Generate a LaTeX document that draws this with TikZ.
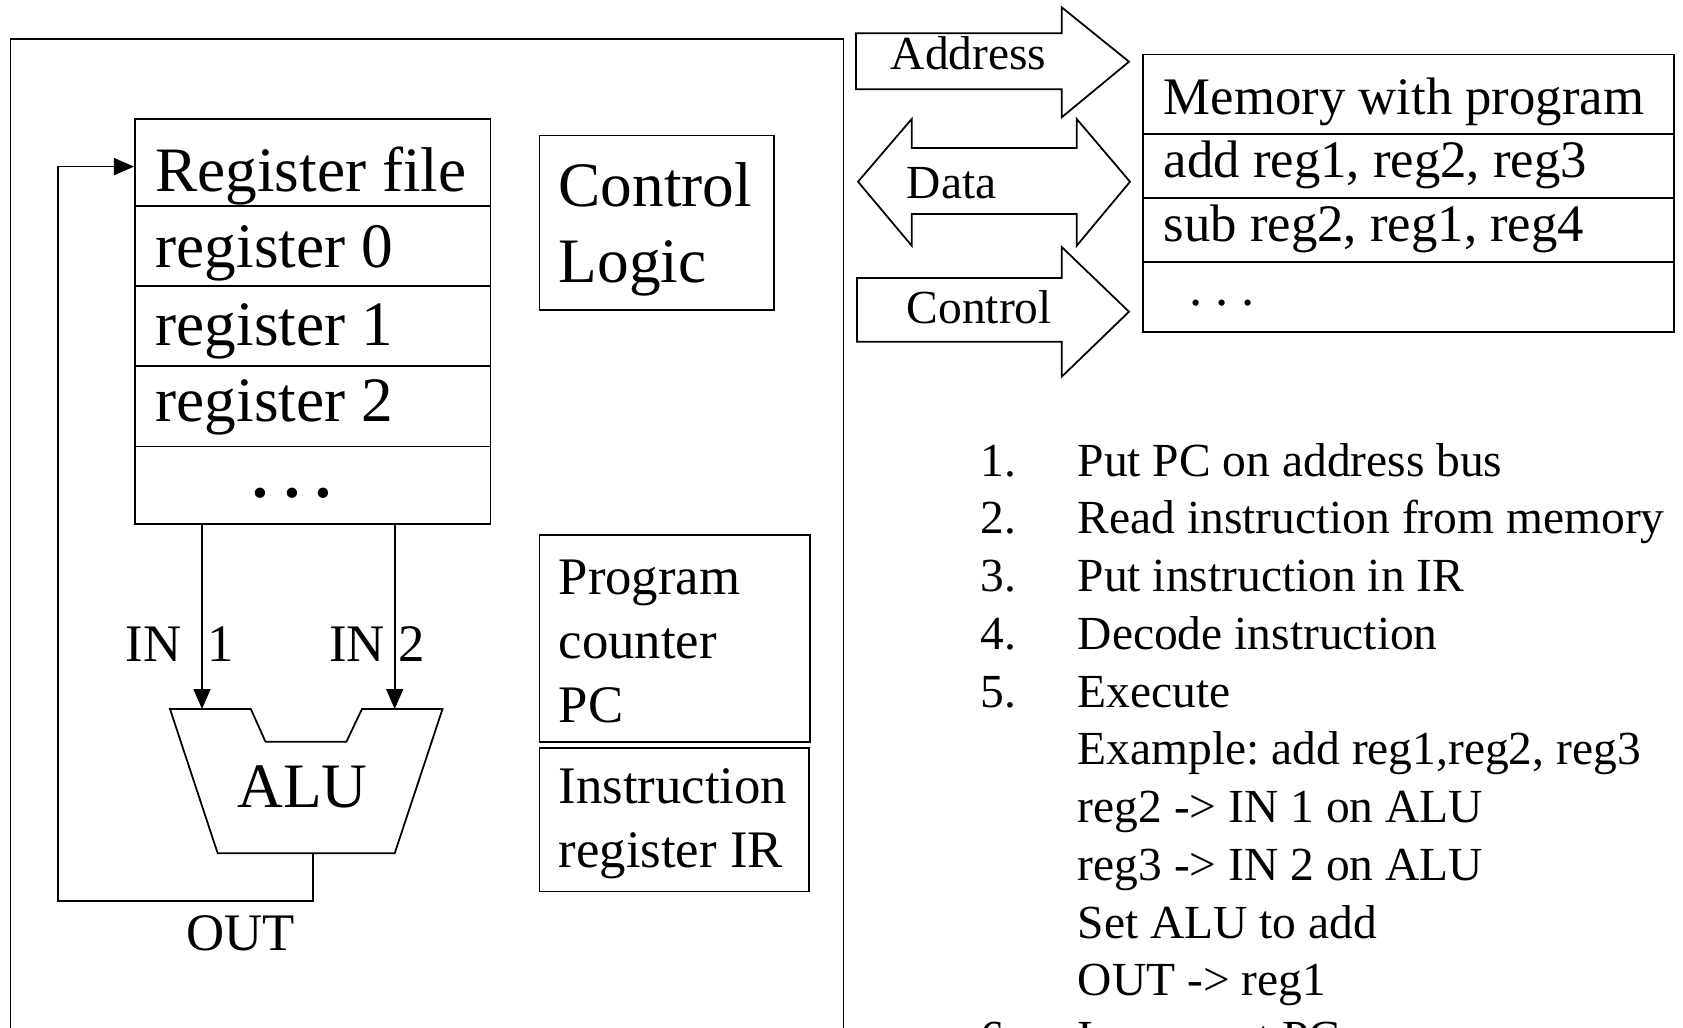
\documentclass[tikz,border=0pt]{standalone}
\usepackage{fontspec}
\setmainfont{Liberation Serif}
\frenchspacing
\usetikzlibrary{arrows.meta}

\begin{document}
\begin{tikzpicture}[x=0.01cm, y=-0.01cm,
    box/.style={draw, line width=0.5pt, inner sep=0pt, anchor=north west},
    lbl/.style={inner sep=0pt, anchor=base west},
    big/.style={lbl, font=\fontsize{18}{21.6}\selectfont},
    mid/.style={lbl, font=\fontsize{15}{18.1}\selectfont},
    sml/.style={lbl, font=\fontsize{13.5}{16.42}\selectfont},
    wire/.style={line width=0.5pt},
    bus/.style={draw, line width=0.5pt},
    arr/.style={line width=0.45pt, -{Triangle[length=2mm, width=1.7mm]}}
  ]
    \useasboundingbox (0,0) rectangle (1683,1027);
    \clip (0,0) rectangle (1683,1027);

    % processor frame, open below the page edge
    \node[box, minimum width=8.325cm, minimum height=10cm] (cpu) at (9.5,38) {};

    % register file
    \node[box, minimum width=3.555cm, minimum height=4.05cm] (regfile) at (134,118) {};
    \draw[wire] (134,205.9) -- (489.5,205.9);
    \draw[wire] (134,285.9) -- (489.5,285.9);
    \draw[wire] (134,366.2) -- (489.5,366.2);
    \draw[wire] (134,446.6) -- (489.5,446.6);
    \node[big] (rtitle) at (154.5,191.5) {Register file};
    \node[big] (reg0) at (155,267) {register 0};
    \node[big] (reg1) at (155,345) {register 1};
    \node[big] (reg2) at (155,421) {register 2};
    \node[big] (rdots) at (251.7,497) {\textbf{. . .}};

    % control logic, PC and IR
    \node[box, minimum width=2.343cm, minimum height=1.748cm] (ctrl) at (538.5,134.5) {};
    \node[big] (ctrltxt) at (558,206.9) {\begin{tabular}[t]{@{}l@{}}Control\\Logic\end{tabular}};
    \node[box, minimum width=2.708cm, minimum height=2.07cm] (pc) at (538.5,534) {};
    \node[mid] (pctxt) at (558,594.8) {\begin{tabular}[t]{@{}l@{}}Program\\counter\\PC\end{tabular}};
    \node[box, minimum width=2.697cm, minimum height=1.434cm] (ir) at (538.5,747.2) {};
    \node[mid] (irtxt) at (558,803.6) {\begin{tabular}[t]{@{}l@{}}Instruction\\register IR\end{tabular}};

    % ALU
    \draw[wire] (170,709) -- (250.8,709) -- (265.5,741.7) -- (346.4,741.7) -- (362,709)
      -- (442.5,709) -- (394.7,853.3) -- (217.7,853.3) -- cycle;
    \node[big, anchor=base] (alu) at (302.5,807) {ALU};
    \coordinate (alu-in1) at (202,709);
    \coordinate (alu-in2) at (394.7,709);
    \coordinate (alu-out) at (313,853.3);
    \draw[arr] (regfile.south -| alu-in1) -- (alu-in1);
    \draw[arr] (regfile.south -| alu-in2) -- (alu-in2);
    \draw[arr] (alu-out) |- (58,901) |- (regfile.west |- 0,166.6);
    \node[mid] (in1) at (125,661.6) {IN\ \ 1};
    \node[mid] (in2) at (328.6,661.6) {IN 2};
    \node[mid] (out) at (185.5,950) {OUT};

    % buses
    \draw[bus] (856,33.3) -- (1061.7,33.3) -- (1061.7,7.3) -- (1129,61.7)
      -- (1061.7,117.3) -- (1061.7,89.3) -- (856,89.3) -- cycle;
    \draw[bus] (858,181.7) -- (911.7,119) -- (911.7,148) -- (1076.7,148) -- (1076.7,119)
      -- (1130,181.7) -- (1076.7,245.7) -- (1076.7,214) -- (911.7,214) -- (911.7,245.7) -- cycle;
    \draw[bus] (857,278) -- (1061.7,278) -- (1061.7,247) -- (1129,311.7)
      -- (1061.7,376.7) -- (1061.7,341.7) -- (857,341.7) -- cycle;
    \node[sml] (addr) at (890,69.3) {Address};
    \node[sml] (data) at (906,198) {Data};
    \node[sml] (ctl) at (906,323.3) {Control};

    % memory
    \node[box, minimum width=5.31cm, minimum height=2.773cm] (mem) at (1142,53.7) {};
    \draw[wire] (1142,134.3) -- (1673,134.3);
    \draw[wire] (1142,198.3) -- (1673,198.3);
    \draw[wire] (1142,261.7) -- (1673,261.7);
    \node[mid] (mtitle) at (1163,114) {Memory with program};
    \node[mid] (ins1) at (1163,177.3) {add reg1, reg2, reg3};
    \node[mid] (ins2) at (1163,241.7) {sub reg2, reg1, reg4};
    \node[mid] (mdots) at (1188.4,305) {. . .};

    % instruction cycle
    \node[sml] (steps) at (980,476.2) {\begin{tabular}[t]{@{}p{0.97cm}@{}l@{}}
      1. & Put PC on address bus\\
      2. & Read instruction from memory\\
      3. & Put instruction in IR\\
      4. & Decode instruction\\
      5. & Execute\\
         & Example: add reg1,reg2, reg3\\
         & reg2 -> IN 1 on ALU\\
         & reg3 -> IN 2 on ALU\\
         & Set ALU to add\\
         & OUT -> reg1\\
      6. & Increment PC
    \end{tabular}};
\end{tikzpicture}
\end{document}
